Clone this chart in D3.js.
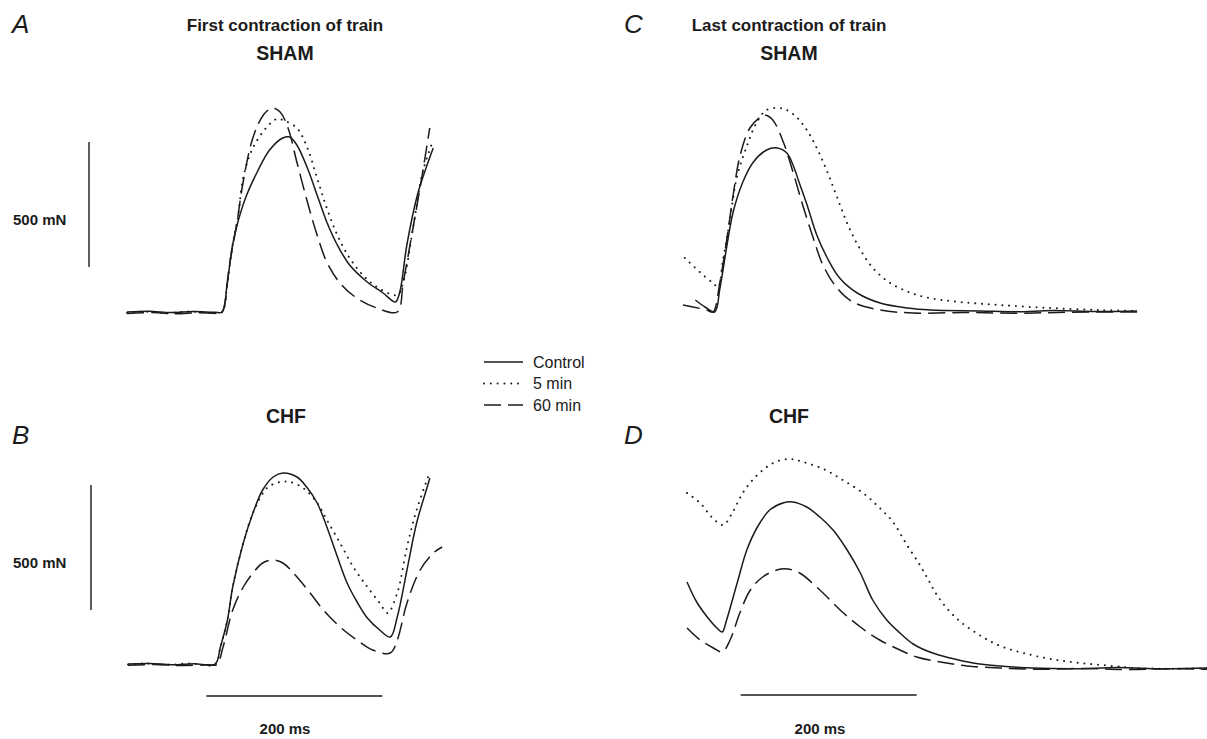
<!DOCTYPE html>
<html>
<head>
<meta charset="utf-8">
<script src="https://cdn.jsdelivr.net/npm/d3@7"></script>
<style>
  html, body { margin: 0; padding: 0; background: #fff; }
  svg { display: block; font-family: "Liberation Sans", Arial, Helvetica, sans-serif; }
</style>
</head>
<body>
<svg id="chart" width="1207" height="739"></svg>
<script>
// Force traces, [time (ms), force (mN) above resting baseline]
// A: first contraction of train, SHAM
const firstShamControl = [[0,0],[25,3],[50,-2],[75,2],[100,-1],[108,0],[114,120],[120,268],[126,360],[136,468],[148,560],[162,648],[177,696],[185,700],[193,668],[205,576],[216,468],[227,360],[239,268],[253,188],[273,120],[291,76],[305,40],[310,80],[318,268],[330,468],[341,588],[348,656]];
const firstSham5min = [[0,-3],[20,1],[45,-4],[70,2],[95,-3],[108,0],[114,120],[120,268],[126,376],[132,536],[143,656],[159,740],[170,772],[177,768],[193,736],[205,656],[216,536],[227,416],[239,308],[253,216],[268,148],[284,100],[307,68],[314,120],[325,336],[336,560],[348,688]];
const firstSham60min = [[0,-6],[30,-2],[55,-7],[80,-3],[104,-5],[108,-2],[117,200],[125,360],[132,520],[143,696],[155,788],[165,816],[174,800],[183,736],[193,600],[205,440],[216,308],[227,200],[242,116],[261,56],[284,16],[307,0],[314,120],[325,336],[336,560],[344,736]];

// B: first contraction of train, CHF
const firstChfControl = [[0,0],[25,2],[50,-3],[75,1],[99,0],[105,68],[113,176],[119,308],[131,484],[142,604],[153,696],[165,748],[176,764],[192,748],[203,708],[215,644],[226,548],[238,428],[249,324],[261,244],[272,184],[286,136],[298,108],[306,188],[317,376],[328,564],[340,708],[343,744]];
const firstChf5min = [[0,-2],[20,2],[45,-3],[70,2],[99,-1],[105,68],[113,176],[119,308],[131,484],[142,604],[158,704],[173,728],[184,728],[199,704],[215,644],[226,576],[241,484],[256,388],[272,308],[286,244],[295,204],[306,284],[317,468],[328,616],[343,768]];
const firstChf60min = [[0,-5],[30,-2],[60,-6],[90,-3],[101,-2],[108,68],[119,216],[131,308],[142,364],[153,404],[165,416],[176,404],[192,348],[207,284],[222,216],[241,148],[260,96],[278,56],[298,44],[306,96],[317,244],[332,376],[347,444],[357,468]];

// C: last contraction of train, SHAM
const lastShamControl = [[14,44],[25,16],[36,-4],[42,92],[50,264],[57,396],[68,516],[80,596],[95,644],[107,652],[118,632],[125,584],[133,504],[141,424],[152,304],[164,212],[178,132],[198,72],[224,32],[255,12],[281,4],[338,0],[380,-3],[420,2],[470,-2],[516,0]];
const lastSham5min = [[2,212],[19,156],[34,112],[40,96],[45,196],[53,356],[61,532],[73,664],[84,756],[95,804],[110,812],[120,800],[130,772],[140,728],[152,652],[164,556],[175,456],[186,356],[198,268],[213,184],[232,120],[255,78],[277,54],[315,36],[360,24],[417,12],[474,4],[516,0]];
const lastSham60min = [[0,24],[27,4],[34,-4],[42,116],[50,292],[57,464],[65,624],[76,732],[88,776],[93,784],[102,764],[114,676],[125,556],[136,424],[148,292],[159,184],[175,92],[193,36],[224,4],[261,-8],[320,-6],[380,-9],[440,-5],[516,-4]];

// D: last contraction of train, CHF
const lastChfControl = [[0,344],[11,264],[23,204],[34,160],[40,144],[45,192],[57,340],[68,472],[80,564],[94,632],[109,660],[120,664],[136,644],[151,604],[166,552],[182,472],[197,380],[211,272],[227,192],[242,140],[257,96],[276,64],[299,40],[325,20],[356,8],[393,0],[440,-3],[490,2],[540,-3],[591,0]];
const lastChf5min = [[0,700],[15,660],[28,604],[41,572],[52,624],[64,704],[80,772],[98,820],[117,836],[132,824],[155,796],[177,752],[200,700],[219,640],[234,584],[250,492],[265,410],[275,348],[284,292],[297,232],[311,184],[327,144],[342,112],[359,84],[382,60],[413,36],[447,20],[484,8],[507,0],[550,-3],[591,-1]];
const lastChf60min = [[0,160],[15,112],[30,80],[40,64],[49,112],[60,220],[72,312],[86,364],[102,392],[114,396],[128,380],[151,312],[174,232],[197,164],[219,112],[242,72],[261,44],[288,24],[318,8],[356,0],[400,-5],[450,-2],[500,-6],[550,-3],[591,-5]];

// Series names and calibration values
const seriesNames = ["Control", "5 min", "60 min"];
const forceBarLabel = "500 mN";
const timeBarLabel = "200 ms";
const forceBarValue = 500;   // mN
const timeBarValue = 200;    // ms

const pxPerMs = 0.88;
const pxPerMN = 0.25;

const styles = {
  "Control": { dash: null, width: 1.5, cap: "butt" },
  "5 min":   { dash: "0.01,6.8", width: 2.0, cap: "round" },
  "60 min":  { dash: "17,7", width: 1.5, cap: "butt" }
};

const panels = [
  { letter: "A", x0: 127, y0: 312, traces: [firstShamControl, firstSham5min, firstSham60min],
    letterPos: [12, 33], vbar: { x: 89, from: 180 }, hbar: null },
  { letter: "B", x0: 128, y0: 664, traces: [firstChfControl, firstChf5min, firstChf60min],
    letterPos: [12, 444], vbar: { x: 91, from: 216 }, hbar: { from: 89, y: 696, labelX: 285, labelY: 734 } },
  { letter: "C", x0: 683, y0: 311, traces: [lastShamControl, lastSham5min, lastSham60min],
    letterPos: [624, 33], vbar: null, hbar: null },
  { letter: "D", x0: 687, y0: 668, traces: [lastChfControl, lastChf5min, lastChf60min],
    letterPos: [624, 444], vbar: null, hbar: { from: 61, y: 695, labelX: 820, labelY: 734 } }
];

const svg = d3.select("#chart");
const ink = "#1b1b1b";

panels.forEach(p => {
  const x = d3.scaleLinear().domain([0, 200]).range([p.x0, p.x0 + 200 * pxPerMs]);
  const y = d3.scaleLinear().domain([0, 500]).range([p.y0, p.y0 - 500 * pxPerMN]);
  const line = d3.line().x(d => x(d[0])).y(d => y(d[1])).curve(d3.curveCatmullRom.alpha(0.5));

  const g = svg.append("g");
  p.traces.forEach((data, i) => {
    const st = styles[seriesNames[i]];
    g.append("path")
      .datum(data)
      .attr("d", line)
      .attr("fill", "none")
      .attr("stroke", ink)
      .attr("stroke-width", st.width)
      .attr("stroke-linecap", st.cap)
      .attr("stroke-linejoin", "round")
      .attr("stroke-dasharray", st.dash);
  });

  if (p.vbar) {
    g.append("line")
      .attr("x1", p.vbar.x).attr("x2", p.vbar.x)
      .attr("y1", y(p.vbar.from)).attr("y2", y(p.vbar.from + forceBarValue))
      .attr("stroke", ink).attr("stroke-width", 1.4);
    g.append("text")
      .attr("x", 13).attr("y", (y(p.vbar.from) + y(p.vbar.from + forceBarValue)) / 2 + 20)
      .attr("font-size", 15).attr("font-weight", "bold").attr("fill", ink)
      .text(forceBarLabel);
  }
  if (p.hbar) {
    g.append("line")
      .attr("x1", x(p.hbar.from)).attr("x2", x(p.hbar.from + timeBarValue))
      .attr("y1", p.hbar.y).attr("y2", p.hbar.y)
      .attr("stroke", ink).attr("stroke-width", 1.4);
    g.append("text")
      .attr("x", p.hbar.labelX).attr("y", p.hbar.labelY)
      .attr("text-anchor", "middle")
      .attr("font-size", 15).attr("font-weight", "bold").attr("fill", ink)
      .text(timeBarLabel);
  }

  g.append("text")
    .attr("x", p.letterPos[0]).attr("y", p.letterPos[1])
    .attr("font-size", 26).attr("font-style", "italic").attr("fill", ink)
    .text(p.letter);
});

// Column and group titles
const titles = [
  { text: "First contraction of train", x: 285, y: 31, size: 17 },
  { text: "Last contraction of train", x: 789, y: 31, size: 17 },
  { text: "SHAM", x: 285, y: 60, size: 19.5 },
  { text: "SHAM", x: 789, y: 60, size: 19.5 },
  { text: "CHF", x: 286, y: 423, size: 19.5 },
  { text: "CHF", x: 789, y: 423, size: 19.5 }
];
svg.selectAll("text.title").data(titles).join("text")
  .attr("class", "title")
  .attr("x", d => d.x).attr("y", d => d.y)
  .attr("text-anchor", "middle")
  .attr("font-size", d => d.size).attr("font-weight", "bold").attr("fill", ink)
  .text(d => d.text);

// Legend
const legend = svg.append("g").attr("transform", "translate(484,362)");
seriesNames.forEach((name, i) => {
  const st = styles[name];
  legend.append("line")
    .attr("x1", 0).attr("x2", 39)
    .attr("y1", i * 21.5).attr("y2", i * 21.5)
    .attr("stroke", ink).attr("stroke-width", st.width)
    .attr("stroke-linecap", st.cap)
    .attr("stroke-dasharray", st.dash);
  legend.append("text")
    .attr("x", 49).attr("y", i * 21.5 + 5.5)
    .attr("font-size", 16).attr("fill", ink)
    .text(name);
});
</script>
</body>
</html>
